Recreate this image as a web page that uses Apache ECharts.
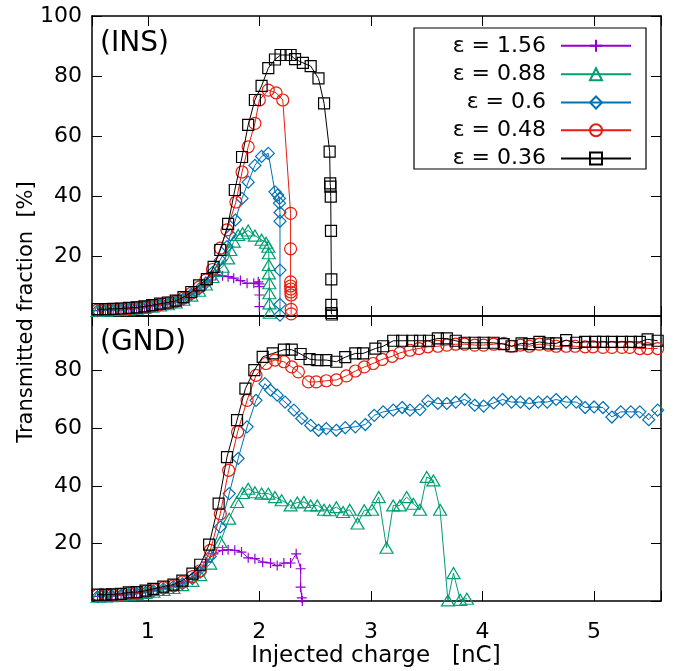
<!DOCTYPE html>
<html><head><meta charset="utf-8">
<script src="https://cdn.jsdelivr.net/npm/echarts@6/dist/echarts.min.js"></script>
<style>html,body{margin:0;padding:0;background:#fff}#c{width:673px;height:671px}</style>
</head><body><div id="c"></div>
<script>
const seriesNames = ['ε = 1.56','ε = 0.88','ε = 0.6','ε = 0.48','ε = 0.36'];
const panelLabels = ['(INS)','(GND)'];
const xTitle = 'Injected charge   [nC]';
const yTitle = 'Transmitted fraction  [%]';

// INS panel (top)
const ins156 = [[0.55,1.8],[0.62,1.9],[0.69,2.0],[0.76,2.1],[0.83,2.3],[0.90,2.5],[0.97,2.8],[1.04,3.2],[1.11,3.6],[1.18,4.0],[1.25,4.6],[1.32,5.6],[1.39,7.0],[1.46,8.6],[1.52,10.2],[1.57,12.0],[1.61,13.7],[1.67,13.4],[1.72,13.1],[1.77,12.6],[1.83,11.8],[1.89,10.9],[1.95,10.9],[1.99,11.4],[2.0,10.7],[2.0,9.8],[2.0,7.0],[2.0,3.1]];
const ins088 = [[0.55,1.7],[0.62,1.8],[0.69,1.9],[0.76,2.0],[0.83,2.2],[0.90,2.4],[0.97,2.7],[1.04,3.1],[1.11,3.5],[1.18,3.9],[1.25,4.5],[1.32,5.4],[1.39,6.8],[1.46,8.4],[1.52,10.5],[1.58,13.0],[1.62,15.0],[1.67,16.4],[1.72,19.2],[1.74,22.0],[1.77,24.8],[1.81,27.0],[1.85,27.6],[1.90,28.5],[1.96,26.8],[2.02,25.4],[2.06,24.4],[2.08,23.1],[2.085,20.9],[2.085,17.0],[2.085,14.2],[2.09,10.9],[2.09,7.6],[2.09,4.2],[2.095,1.1]];
const ins060 = [[0.55,1.8],[0.62,1.9],[0.69,2.0],[0.76,2.2],[0.83,2.4],[0.90,2.6],[0.97,2.9],[1.04,3.3],[1.11,3.7],[1.18,4.1],[1.25,4.7],[1.32,5.7],[1.39,7.2],[1.46,9.0],[1.52,11.0],[1.58,14.5],[1.65,18.7],[1.71,23.1],[1.74,27.0],[1.785,32.0],[1.845,39.2],[1.90,44.6],[1.96,50.2],[2.02,53.2],[2.08,54.2],[2.14,41.4],[2.165,40.3],[2.18,39.2],[2.18,37.6],[2.185,34.5],[2.185,31.6],[2.185,15.3],[2.185,3.9],[2.185,0.3]];
const ins048 = [[0.55,2.0],[0.62,2.1],[0.69,2.2],[0.76,2.3],[0.83,2.5],[0.90,2.7],[0.97,3.0],[1.04,3.4],[1.11,3.8],[1.18,4.3],[1.25,4.9],[1.32,6.0],[1.39,7.6],[1.46,9.6],[1.52,12.0],[1.58,15.5],[1.65,22.6],[1.71,28.7],[1.79,38.0],[1.845,48.0],[1.90,56.4],[1.96,64.2],[2.0,72.0],[2.08,75.3],[2.15,74.4],[2.21,72.0],[2.28,34.2],[2.28,22.4],[2.28,11.4],[2.28,10.0],[2.282,9.0],[2.282,8.0],[2.285,7.0],[2.285,2.2],[2.285,0.7]];
const ins036 = [[0.55,2.3],[0.62,2.3],[0.69,2.4],[0.76,2.5],[0.83,2.7],[0.90,2.9],[0.97,3.2],[1.04,3.6],[1.11,4.1],[1.18,4.5],[1.25,5.1],[1.32,6.3],[1.39,8.0],[1.46,10.2],[1.53,12.3],[1.59,16.4],[1.65,22.0],[1.72,30.7],[1.78,42.0],[1.845,53.0],[1.90,63.7],[1.96,72.0],[2.02,76.7],[2.08,82.6],[2.14,85.5],[2.19,87.0],[2.24,87.0],[2.28,87.0],[2.32,85.6],[2.39,84.4],[2.46,83.3],[2.53,79.2],[2.58,70.9],[2.63,54.8],[2.635,44.2],[2.637,43.1],[2.64,39.8],[2.642,28.4],[2.645,12.2],[2.645,3.7],[2.645,1.0],[2.65,0.5]];

// GND panel (bottom)
const gnd156 = [[0.55,1.6],[0.62,1.7],[0.68,1.8],[0.76,2.0],[0.83,2.4],[0.90,2.7],[0.98,3.1],[1.05,3.6],[1.14,4.3],[1.23,5.1],[1.31,6.2],[1.40,8.2],[1.47,10.5],[1.53,13.5],[1.59,16.4],[1.67,17.6],[1.72,17.8],[1.78,17.6],[1.84,17.0],[1.90,15.0],[1.96,14.7],[2.03,13.5],[2.10,13.2],[2.16,12.3],[2.22,13.2],[2.28,13.2],[2.33,16.4],[2.37,11.2],[2.37,4.8],[2.38,1.1],[2.385,0]];
const gnd088 = [[0.55,1.5],[0.62,1.6],[0.68,1.7],[0.76,1.9],[0.83,2.2],[0.90,2.4],[0.98,2.8],[1.05,3.2],[1.14,3.8],[1.23,4.5],[1.31,5.5],[1.40,7.0],[1.47,9.0],[1.56,13.0],[1.65,20.5],[1.73,28.6],[1.80,34.4],[1.85,37.5],[1.90,39.0],[1.96,37.8],[2.02,37.3],[2.08,37.3],[2.14,36.1],[2.20,35.0],[2.28,33.2],[2.34,34.2],[2.40,34.4],[2.46,33.2],[2.52,33.2],[2.58,31.7],[2.63,31.5],[2.69,32.6],[2.75,30.9],[2.81,31.7],[2.88,26.9],[2.94,31.5],[3.01,31.7],[3.07,36.1],[3.14,18.5],[3.20,33.2],[3.26,33.2],[3.32,36.1],[3.38,33.8],[3.44,31.7],[3.50,43.1],[3.56,41.9],[3.62,31.7],[3.69,0.2],[3.74,9.7],[3.80,0.4],[3.86,0.8]];
const gnd060 = [[0.55,1.5],[0.62,1.7],[0.68,1.8],[0.76,2.0],[0.83,2.3],[0.90,2.6],[0.98,3.0],[1.05,3.5],[1.14,4.2],[1.23,5.0],[1.31,6.0],[1.40,7.8],[1.47,10.0],[1.56,15.5],[1.65,25.7],[1.73,37.3],[1.81,49.5],[1.89,60.5],[1.97,69.7],[2.05,75.5],[2.10,73.2],[2.16,71.5],[2.23,69.1],[2.31,66.3],[2.38,63.4],[2.46,61.0],[2.53,59.3],[2.60,59.9],[2.69,59.3],[2.77,60.2],[2.86,60.5],[2.95,61.3],[3.03,64.5],[3.11,65.7],[3.20,66.3],[3.28,67.2],[3.35,66.3],[3.44,66.5],[3.51,69.5],[3.60,68.6],[3.68,68.6],[3.76,69.1],[3.84,70.0],[3.93,68.0],[4.01,67.7],[4.10,68.8],[4.18,70.0],[4.26,69.1],[4.34,69.1],[4.42,68.6],[4.50,69.1],[4.58,69.1],[4.66,70.0],[4.75,69.1],[4.84,69.1],[4.92,67.2],[5.00,67.4],[5.08,67.2],[5.16,63.9],[5.24,65.7],[5.33,65.7],[5.41,65.7],[5.49,63.0],[5.57,66.3]];
const gnd048 = [[0.55,2.0],[0.62,2.0],[0.68,2.1],[0.76,2.3],[0.83,2.7],[0.90,2.9],[0.98,3.3],[1.05,3.9],[1.14,4.6],[1.23,5.3],[1.31,6.6],[1.40,8.5],[1.47,10.5],[1.56,17.6],[1.65,30.3],[1.725,45.4],[1.805,58.7],[1.89,69.7],[1.97,78.4],[2.06,82.5],[2.14,83.7],[2.22,83.1],[2.29,81.3],[2.35,79.6],[2.44,76.1],[2.51,76.1],[2.60,76.5],[2.69,76.8],[2.78,78.2],[2.86,79.9],[2.94,81.3],[3.02,82.5],[3.10,83.9],[3.19,85.0],[3.26,86.2],[3.35,87.1],[3.43,87.7],[3.51,88.3],[3.60,88.5],[3.68,88.9],[3.76,89.2],[3.84,89.2],[3.93,88.9],[4.01,88.9],[4.10,89.2],[4.19,89.5],[4.26,88.5],[4.34,88.9],[4.42,88.5],[4.51,89.2],[4.59,88.9],[4.66,88.5],[4.75,88.5],[4.83,88.5],[4.92,88.3],[4.99,88.3],[5.08,88.1],[5.16,88.1],[5.25,88.1],[5.32,88.1],[5.41,87.7],[5.48,87.7],[5.57,87.7]];
const gnd036 = [[0.55,2.2],[0.62,2.2],[0.68,2.3],[0.76,2.5],[0.83,3.0],[0.90,3.1],[0.98,3.6],[1.05,4.2],[1.14,5.0],[1.23,5.7],[1.31,7.1],[1.40,9.5],[1.47,12.6],[1.55,19.6],[1.635,33.8],[1.71,50.0],[1.80,62.8],[1.875,73.8],[1.955,80.2],[2.03,84.8],[2.12,86.0],[2.22,87.3],[2.29,87.3],[2.37,85.8],[2.45,84.0],[2.52,83.7],[2.60,83.7],[2.69,83.1],[2.77,84.7],[2.86,86.0],[2.93,86.0],[3.04,87.7],[3.11,88.5],[3.20,90.4],[3.28,90.4],[3.37,90.4],[3.44,90.4],[3.52,90.4],[3.60,91.2],[3.68,91.2],[3.76,90.4],[3.84,89.7],[3.93,89.7],[4.01,89.7],[4.10,89.7],[4.19,89.2],[4.26,88.5],[4.35,89.5],[4.42,89.2],[4.51,90.0],[4.59,89.5],[4.66,89.5],[4.75,90.6],[4.84,89.7],[4.92,90.0],[5.01,90.0],[5.08,90.0],[5.16,90.0],[5.25,90.0],[5.33,90.0],[5.41,90.0],[5.48,90.9],[5.57,90.4]];

const insData = [ins156, ins088, ins060, ins048, ins036];
const gndData = [gnd156, gnd088, gnd060, gnd048, gnd036];

const colors = ['#9400d3','#009e73','#0072b2','#e51e10','#000000'];
const symbols = ['path://M0,5L10,5M5,0L5,10','triangle','diamond','circle','rect'];
const symSizes = [[10,10],[13,11],[12,12],[12,12],[11,11]];
const FONT = 'DejaVu Sans';

const chart = echarts.init(document.getElementById('c'), null, {renderer:'canvas'});

const grids = [
  {left:92, top:16, width:569, height:300},
  {left:92, top:316, width:569, height:285}
];
function xa(gi, pos, labels){
  return {type:'value', gridIndex:gi, position:pos, min:0.5, max:5.6, splitNumber:5,
    axisLine:{show:true, onZero:false, lineStyle:{color:'#000', width:1.5}},
    axisTick:{show:true, inside:true, length:10, lineStyle:{color:'#000', width:1}},
    splitLine:{show:false},
    axisLabel:{show:labels, margin:20, fontSize:22, fontFamily:FONT, color:'#000',
      formatter: v => Number.isInteger(v) ? String(v) : ''}};
}
function ya(gi, pos, max, labels){
  return {type:'value', gridIndex:gi, position:pos, min:0, max:max, interval:20,
    axisLine:{show:true, onZero:false, lineStyle:{color:'#000', width:1.5}},
    axisTick:{show:true, inside:true, length:10, lineStyle:{color:'#000', width:1}},
    splitLine:{show:false},
    axisLabel:{show:labels, margin:10, fontSize:22, fontFamily:FONT, color:'#000',
      formatter: v => (v > 0 && v % 20 === 0) ? String(v) : ''}};
}

const series = [];
[insData, gndData].forEach((panel, pi) => {
  panel.forEach((d, i) => {
    series.push({
      type:'line', name: seriesNames[i], data: d,
      xAxisIndex: pi*2, yAxisIndex: pi*2,
      symbol: symbols[i], symbolSize: symSizes[i], showAllSymbol: true,
      clip: false, animation: false, z: 2 + i,
      lineStyle:{color: colors[i], width: 1},
      itemStyle:{color: 'rgba(255,255,255,0)', borderColor: colors[i], borderWidth: 1.2},
      emphasis:{disabled:true}
    });
  });
});

const rowY = [42.3, 70.7, 99, 126.7, 155];
const legends = seriesNames.map((n, i) => ({
  data:[n], orient:'vertical', align:'right', right:41, top: rowY[i]-7.5,
  padding:0, itemWidth:70, itemHeight:15, selectedMode:false, z:20,
  textStyle:{fontSize:22, fontFamily:FONT, color:'#000', padding:[0,10,0,0]}
}));

chart.setOption({
  animation:false,
  backgroundColor:'#fff',
  grid: grids,
  xAxis: [xa(0,'bottom',false), xa(0,'top',false), xa(1,'bottom',true), xa(1,'top',false)],
  yAxis: [ya(0,'left',100,true), ya(0,'right',100,false), ya(1,'left',99,true), ya(1,'right',99,false)],
  legend: legends,
  series: series,
  graphic: [
    {type:'rect', shape:{x:414, y:28, width:232, height:141}, style:{fill:'none', stroke:'#000', lineWidth:1.2}, z:1},
    {type:'text', left:100, top:30, style:{text:panelLabels[0], font:'28px "DejaVu Sans"', fill:'#000'}},
    {type:'text', left:100, top:329, style:{text:panelLabels[1], font:'28px "DejaVu Sans"', fill:'#000'}},
    {type:'text', x:376, y:656, style:{text:xTitle, font:'23px "DejaVu Sans"', fill:'#000', align:'center', verticalAlign:'middle'}},
    {type:'text', x:27, y:312, rotation:Math.PI/2, style:{text:yTitle, font:'21px "DejaVu Sans"', fill:'#000', align:'center', verticalAlign:'middle'}}
  ]
});
</script></body></html>
